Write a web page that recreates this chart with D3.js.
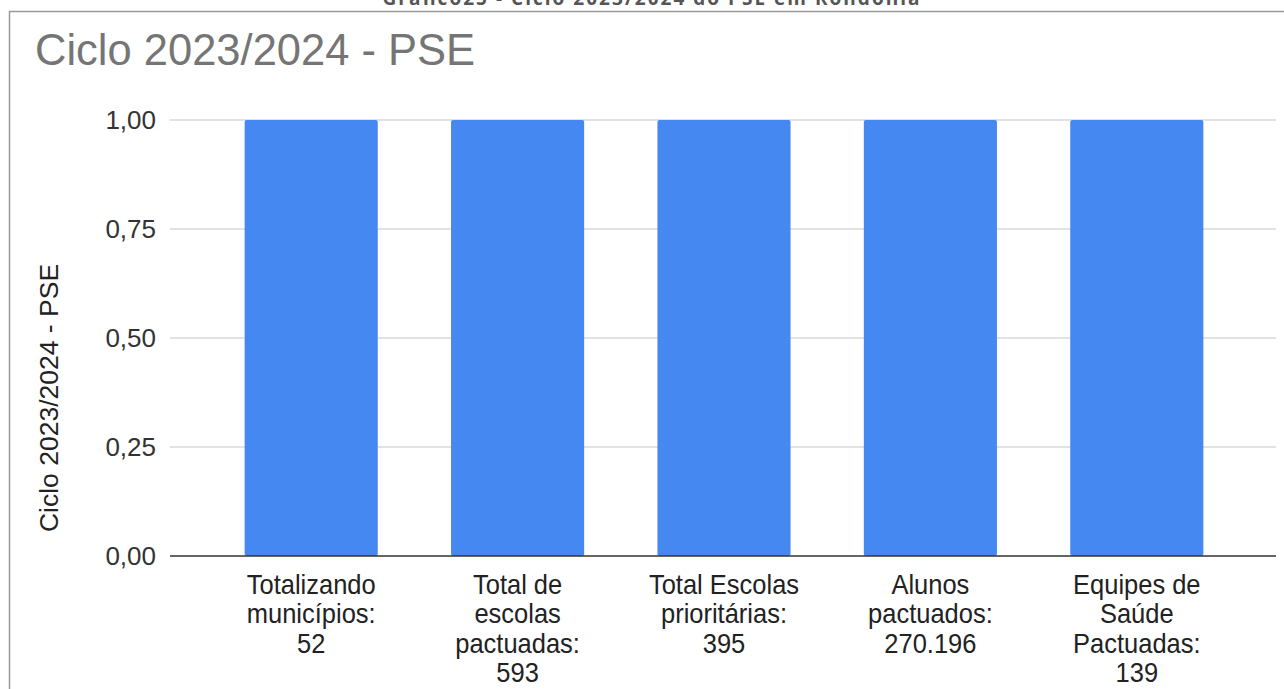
<!DOCTYPE html>
<html>
<head>
<meta charset="utf-8">
<script src="https://cdn.jsdelivr.net/npm/d3@7"></script>
<style>
  html, body { margin: 0; padding: 0; background: #fff; }
  svg { display: block; font-family: "Liberation Sans", Arial, sans-serif; }
</style>
</head>
<body>
<svg id="chart" width="1284" height="689"></svg>
<script>
// categories as they appear under the bars (wrapped lines)
const categories = [
  ["Totalizando", "municípios:", "52"],
  ["Total de", "escolas", "pactuadas:", "593"],
  ["Total Escolas", "prioritárias:", "395"],
  ["Alunos", "pactuados:", "270.196"],
  ["Equipes de", "Saúde", "Pactuadas:", "139"]
]
const values = [1, 1, 1, 1, 1]
const yTicks = [0, 0.25, 0.5, 0.75, 1]

const title = "Ciclo 2023/2024 - PSE"
const header = "Gráfico25 - Ciclo 2023/2024 do PSE em Rondônia"

const svg = d3.select('#chart')
const plotTop = 120, plotBottom = 556

// cut-off caption above the frame
svg.append('text')
  .attr('x', 651).attr('y', 5)
  .attr('text-anchor', 'middle')
  .attr('font-family', '"Open Sans", sans-serif')
  .attr('font-weight', 'bold')
  .attr('font-size', 19)
  .attr('textLength', 537)
  .attr('fill', '#555')
  .text(header)

// frame
svg.append('path')
  .attr('d', 'M9.5,689 V11.5 H1284')
  .attr('fill', 'none')
  .attr('stroke', '#9a9a9a')
  .attr('stroke-width', 1.5)

svg.append('text')
  .attr('x', 35).attr('y', 65)
  .attr('font-size', 43.5)
  .attr('fill', '#757575')
  .text(title)

const x = d3.scaleBand()
  .domain(d3.range(categories.length))
  .range([208, 1240])
  .paddingInner(0.355)
  .paddingOuter(0.1775)

const y = d3.scaleLinear().domain([0, 1]).range([plotBottom, plotTop])

const fmt = d => d3.format('.2f')(d).replace('.', ',')

// gridlines
svg.append('g')
  .selectAll('line')
  .data(yTicks.filter(d => d > 0))
  .enter()
  .append('line')
  .attr('x1', 170).attr('x2', 1276)
  .attr('y1', d => y(d)).attr('y2', d => y(d))
  .attr('stroke', '#d9d9d9')
  .attr('stroke-width', 1.5)

// y tick labels
svg.append('g')
  .selectAll('text')
  .data(yTicks)
  .enter()
  .append('text')
  .attr('x', 156)
  .attr('y', d => y(d))
  .attr('dy', '0.35em')
  .attr('text-anchor', 'end')
  .attr('font-size', 26)
  .attr('fill', '#333')
  .text(fmt)

// bars
svg.append('g')
  .selectAll('rect')
  .data(values)
  .enter()
  .append('rect')
  .attr('x', (d, i) => x(i))
  .attr('y', d => y(d))
  .attr('width', x.bandwidth())
  .attr('height', d => y(0) - y(d))
  .attr('rx', 2)
  .attr('fill', '#4688f1')

// baseline
svg.append('line')
  .attr('x1', 170).attr('x2', 1276)
  .attr('y1', y(0)).attr('y2', y(0))
  .attr('stroke', '#333')
  .attr('stroke-width', 1.5)

// x labels
const lab = svg.append('g')
  .selectAll('text')
  .data(categories)
  .enter()
  .append('text')
  .attr('text-anchor', 'middle')
  .attr('font-size', 25.5)
  .attr('fill', '#222')
  .attr('transform', (d, i) => `translate(${x(i) + x.bandwidth() / 2}, 594) scale(1, 1.08)`)

lab.selectAll('tspan')
  .data(d => d)
  .enter()
  .append('tspan')
  .attr('x', 0)
  .attr('y', (d, i) => i * 27.3)
  .text(d => d)

// y axis title
svg.append('text')
  .attr('transform', `translate(58, 398) rotate(-90)`)
  .attr('text-anchor', 'middle')
  .attr('font-size', 26.5)
  .attr('fill', '#222')
  .text(title)
</script>
</body>
</html>
